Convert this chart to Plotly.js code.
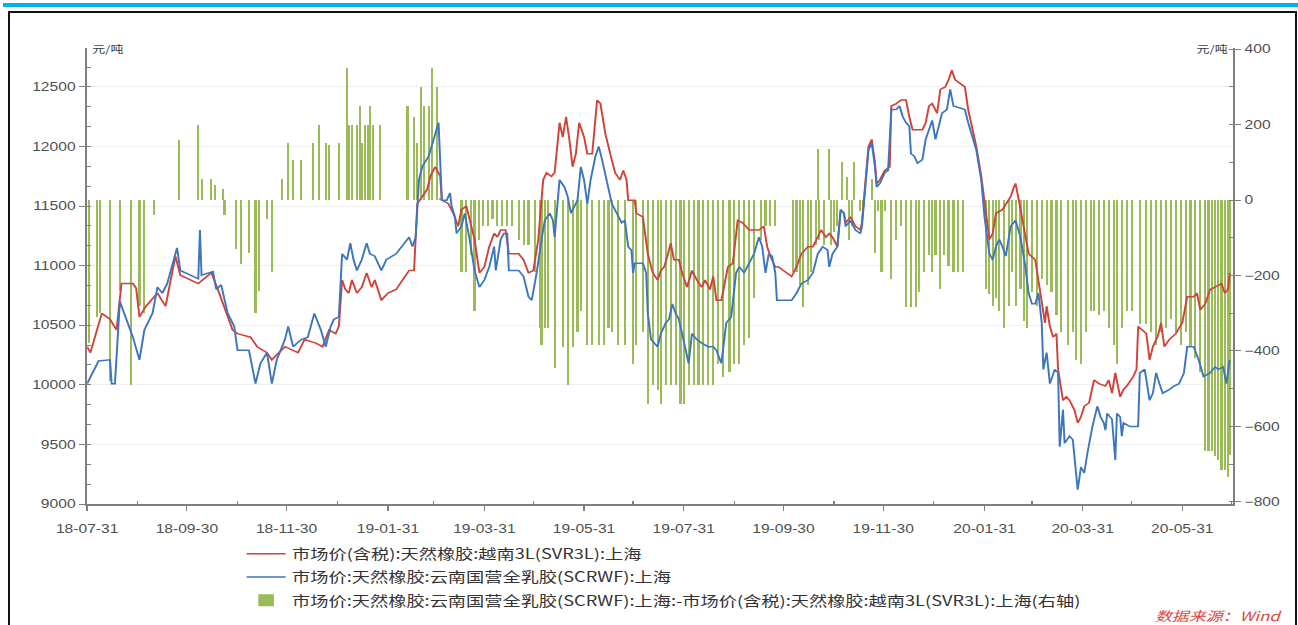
<!DOCTYPE html>
<html>
<head>
<meta charset="utf-8">
<script src="https://cdn.plot.ly/plotly-3.0.1.min.js"></script>
<style>
  html, body { margin: 0; padding: 0; background: #ffffff; width: 1298px; height: 625px; overflow: hidden; }
  #stripe { position: absolute; left: 3px; top: 3px; width: 1295px; height: 4px; background: #00b0f0; }
  #frame { position: absolute; left: 8px; top: 11px; width: 1285px; height: 700px; border: 2px solid #111; }
  #chart { position: absolute; left: 0; top: 0; width: 998px; height: 625px; transform: scaleX(1.3006); transform-origin: 0 0; }
</style>
</head>
<body>
<div id="stripe"></div>
<div id="frame"></div>
<div id="chart"></div>
<script>
// ---- Series: 市场价(含税):天然橡胶:越南3L(SVR3L):上海 (left axis, 元/吨)
const svrDates = ["2018-07-31","2018-08-02","2018-08-09","2018-08-14","2018-08-18","2018-08-21","2018-08-28","2018-08-30","2018-09-01","2018-09-05","2018-09-12","2018-09-17","2018-09-23","2018-09-26","2018-10-07","2018-10-15","2018-10-19","2018-10-28","2018-10-31","2018-11-08","2018-11-12","2018-11-18","2018-11-21","2018-11-29","2018-12-07","2018-12-11","2018-12-18","2018-12-22","2018-12-26","2018-12-30","2019-01-01","2019-01-03","2019-01-05","2019-01-07","2019-01-09","2019-01-12","2019-01-15","2019-01-18","2019-01-21","2019-01-23","2019-01-27","2019-01-31","2019-02-05","2019-02-13","2019-02-16","2019-02-18","2019-02-21","2019-02-24","2019-02-26","2019-03-01","2019-03-04","2019-03-05","2019-03-09","2019-03-12","2019-03-15","2019-03-17","2019-03-20","2019-03-23","2019-03-25","2019-03-28","2019-03-31","2019-04-03","2019-04-06","2019-04-08","2019-04-10","2019-04-13","2019-04-15","2019-04-21","2019-04-24","2019-04-27","2019-04-30","2019-05-03","2019-05-06","2019-05-08","2019-05-11","2019-05-13","2019-05-16","2019-05-18","2019-05-20","2019-05-22","2019-05-24","2019-05-26","2019-05-28","2019-05-31","2019-06-02","2019-06-05","2019-06-08","2019-06-10","2019-06-13","2019-06-16","2019-06-19","2019-06-22","2019-06-24","2019-06-26","2019-06-27","2019-07-01","2019-07-02","2019-07-06","2019-07-09","2019-07-12","2019-07-15","2019-07-17","2019-07-19","2019-07-21","2019-07-23","2019-07-25","2019-07-28","2019-07-30","2019-08-02","2019-08-05","2019-08-08","2019-08-11","2019-08-13","2019-08-16","2019-08-18","2019-08-20","2019-08-23","2019-08-27","2019-08-30","2019-09-02","2019-09-05","2019-09-09","2019-09-12","2019-09-15","2019-09-18","2019-09-20","2019-09-22","2019-09-25","2019-09-27","2019-10-05","2019-10-08","2019-10-11","2019-10-15","2019-10-18","2019-10-21","2019-10-23","2019-10-26","2019-10-28","2019-10-30","2019-11-02","2019-11-04","2019-11-06","2019-11-07","2019-11-10","2019-11-13","2019-11-16","2019-11-17","2019-11-19","2019-11-21","2019-11-23","2019-11-25","2019-11-26","2019-11-28","2019-12-01","2019-12-04","2019-12-05","2019-12-08","2019-12-11","2019-12-14","2019-12-16","2019-12-18","2019-12-21","2019-12-24","2019-12-26","2019-12-28","2019-12-30","2020-01-02","2020-01-04","2020-01-07","2020-01-09","2020-01-11","2020-01-13","2020-01-16","2020-01-19","2020-01-21","2020-01-26","2020-01-29","2020-02-01","2020-02-03","2020-02-05","2020-02-07","2020-02-11","2020-02-13","2020-02-16","2020-02-18","2020-02-19","2020-02-21","2020-02-24","2020-02-27","2020-03-02","2020-03-04","2020-03-06","2020-03-08","2020-03-09","2020-03-11","2020-03-13","2020-03-15","2020-03-16","2020-03-19","2020-03-21","2020-03-23","2020-03-26","2020-03-28","2020-03-30","2020-04-01","2020-04-04","2020-04-07","2020-04-10","2020-04-14","2020-04-16","2020-04-18","2020-04-20","2020-04-23","2020-04-25","2020-04-27","2020-05-01","2020-05-03","2020-05-04","2020-05-09","2020-05-11","2020-05-13","2020-05-16","2020-05-18","2020-05-20","2020-05-23","2020-05-27","2020-05-31","2020-06-03","2020-06-07","2020-06-09","2020-06-11","2020-06-14","2020-06-17","2020-06-20","2020-06-24","2020-06-26","2020-06-28","2020-06-29"];
const svrPrice = [10320,10270,10600,10550,10460,10850,10850,10810,10570,10660,10770,10660,11080,10920,10850,10940,10800,10460,10430,10400,10320,10270,10210,10320,10270,10380,10350,10320,10460,10430,10490,10880,10800,10770,10880,10770,10820,10940,10820,10880,10710,10770,10800,10960,10960,11520,11580,11640,11750,11830,11750,11550,11520,11440,11330,11470,11500,11330,11220,10940,10990,11160,11270,11240,11300,11300,11100,11100,11050,10940,10960,11220,11720,11780,11750,11780,12200,12080,12250,12060,11830,11940,12200,12080,11940,11940,12390,12360,12110,11940,11780,11720,11800,11720,11550,11550,11440,11410,11100,10940,10880,10960,10990,11080,11190,11050,11050,10940,10820,10960,10880,10820,10880,10800,10910,10710,10710,10990,11020,11380,11360,11300,11300,11300,11330,11160,11080,10990,10990,10910,10990,11100,11160,11160,11240,11300,11240,11270,11240,11160,11470,11440,11360,11410,11330,11300,11360,11640,12000,12060,11860,11690,11720,11800,11830,12340,12360,12390,12390,12250,12140,12140,12140,12200,12340,12360,12280,12480,12500,12560,12640,12560,12530,12500,12310,12000,11750,11410,11220,11270,11440,11470,11520,11580,11660,11690,11550,11330,11100,11050,10880,10680,10520,10660,10490,10400,10430,10130,9870,9900,9870,9790,9680,9730,9820,9850,10040,10010,9990,10040,9930,10100,9900,9960,9990,10070,10130,10490,10430,10210,10320,10410,10520,10320,10380,10430,10520,10740,10740,10770,10630,10680,10800,10820,10850,10770,10800,10940];

// ---- Series: 市场价:天然橡胶:云南国营全乳胶(SCRWF):上海 (left axis, 元/吨)
const scrwfDates = ["2018-07-31","2018-08-07","2018-08-14","2018-08-15","2018-08-17","2018-08-20","2018-08-24","2018-08-28","2018-09-01","2018-09-04","2018-09-09","2018-09-12","2018-09-15","2018-09-18","2018-09-24","2018-09-26","2018-10-07","2018-10-08","2018-10-09","2018-10-16","2018-10-18","2018-10-21","2018-10-25","2018-10-29","2018-10-31","2018-11-07","2018-11-11","2018-11-14","2018-11-18","2018-11-21","2018-11-24","2018-11-29","2018-12-01","2018-12-04","2018-12-09","2018-12-13","2018-12-17","2018-12-21","2018-12-24","2018-12-27","2018-12-29","2019-01-01","2019-01-03","2019-01-06","2019-01-08","2019-01-10","2019-01-12","2019-01-15","2019-01-18","2019-01-20","2019-01-23","2019-01-27","2019-01-30","2019-02-05","2019-02-13","2019-02-15","2019-02-17","2019-02-19","2019-02-21","2019-02-25","2019-02-28","2019-03-03","2019-03-05","2019-03-08","2019-03-10","2019-03-11","2019-03-13","2019-03-14","2019-03-17","2019-03-19","2019-03-22","2019-03-25","2019-03-28","2019-03-31","2019-04-03","2019-04-06","2019-04-07","2019-04-10","2019-04-12","2019-04-14","2019-04-15","2019-04-21","2019-04-24","2019-04-27","2019-04-29","2019-05-02","2019-05-05","2019-05-07","2019-05-10","2019-05-12","2019-05-13","2019-05-16","2019-05-19","2019-05-21","2019-05-23","2019-05-25","2019-05-27","2019-05-29","2019-05-31","2019-06-02","2019-06-04","2019-06-07","2019-06-09","2019-06-11","2019-06-14","2019-06-17","2019-06-20","2019-06-23","2019-06-25","2019-06-27","2019-06-29","2019-06-30","2019-07-01","2019-07-06","2019-07-08","2019-07-09","2019-07-11","2019-07-15","2019-07-17","2019-07-20","2019-07-22","2019-07-24","2019-07-26","2019-07-28","2019-07-30","2019-08-01","2019-08-03","2019-08-05","2019-08-08","2019-08-11","2019-08-15","2019-08-18","2019-08-20","2019-08-23","2019-08-26","2019-08-29","2019-09-01","2019-09-03","2019-09-06","2019-09-09","2019-09-12","2019-09-15","2019-09-17","2019-09-19","2019-09-21","2019-09-23","2019-09-25","2019-09-26","2019-09-29","2019-10-05","2019-10-08","2019-10-11","2019-10-15","2019-10-18","2019-10-21","2019-10-24","2019-10-27","2019-10-28","2019-10-30","2019-11-02","2019-11-04","2019-11-06","2019-11-07","2019-11-10","2019-11-13","2019-11-16","2019-11-17","2019-11-19","2019-11-21","2019-11-23","2019-11-25","2019-11-26","2019-11-28","2019-12-01","2019-12-03","2019-12-05","2019-12-08","2019-12-10","2019-12-12","2019-12-14","2019-12-16","2019-12-17","2019-12-19","2019-12-21","2019-12-24","2019-12-26","2019-12-28","2019-12-30","2020-01-01","2020-01-03","2020-01-05","2020-01-08","2020-01-10","2020-01-12","2020-01-19","2020-01-21","2020-01-26","2020-01-29","2020-01-31","2020-02-03","2020-02-05","2020-02-07","2020-02-09","2020-02-11","2020-02-13","2020-02-16","2020-02-19","2020-02-22","2020-02-25","2020-02-27","2020-02-29","2020-03-02","2020-03-04","2020-03-06","2020-03-07","2020-03-09","2020-03-11","2020-03-14","2020-03-16","2020-03-17","2020-03-19","2020-03-20","2020-03-23","2020-03-25","2020-03-27","2020-03-28","2020-03-30","2020-04-01","2020-04-03","2020-04-06","2020-04-09","2020-04-11","2020-04-13","2020-04-14","2020-04-15","2020-04-18","2020-04-20","2020-04-21","2020-04-23","2020-04-24","2020-04-25","2020-04-29","2020-05-04","2020-05-05","2020-05-08","2020-05-11","2020-05-13","2020-05-15","2020-05-17","2020-05-19","2020-05-23","2020-05-26","2020-05-29","2020-06-01","2020-06-03","2020-06-07","2020-06-10","2020-06-13","2020-06-17","2020-06-20","2020-06-22","2020-06-25","2020-06-27","2020-06-29"];
const scrwfPrice = [10010,10200,10210,10010,10010,10700,10550,10400,10210,10460,10600,10820,10770,10850,11150,10960,10890,11300,10920,10950,10800,10840,10600,10490,10290,10290,10010,10180,10270,10010,10210,10380,10490,10320,10380,10400,10600,10460,10320,10490,10550,10570,11100,11050,11190,11050,10960,11050,11190,11100,11080,10960,11050,11100,11240,11160,11240,11720,11830,11920,12060,12200,11550,11550,11610,11500,11410,11270,11330,11440,11220,10960,10820,10880,10990,11160,10960,11220,11270,11270,10960,10960,10910,10740,10710,10940,11220,11380,11440,11380,11240,11720,11660,11580,11440,11500,11550,11830,11720,11520,11720,11920,12000,11890,11720,11520,11440,11360,11380,11160,11130,10940,11020,11020,10940,10600,10380,10320,10430,10520,10550,10680,10600,10550,10430,10320,10180,10430,10380,10350,10320,10320,10290,10180,10520,10570,10940,10990,10940,11020,11100,11240,11160,10940,11100,11080,10940,10710,10710,10710,10770,10850,10880,10940,11100,11160,11130,10990,11100,11160,11470,11440,11330,11380,11300,11270,11330,11610,11970,12030,11830,11660,11690,11780,11800,12310,12310,12340,12250,12200,12170,11940,11920,11860,11890,12060,12140,12220,12060,12170,12280,12310,12480,12340,12310,12200,11970,11720,11410,11100,11050,11160,11220,11160,11080,11330,11380,11240,10990,10770,10680,10680,10770,10520,10130,10270,10010,10130,10100,9480,9790,9510,9570,9540,9290,9120,9310,9260,9430,9650,9820,9730,9680,9620,9760,9710,9370,9760,9730,9570,9680,9650,9650,10100,10130,9870,9930,10100,10010,9930,9960,9990,10010,10100,10320,10320,10210,10070,10100,10150,10130,10150,10010,10210];

// ---- Series: SCRWF - SVR3L spread (right axis, 元/吨)
const spreadDates = ["2018-08-01","2018-08-06","2018-08-08","2018-08-14","2018-08-20","2018-08-27","2018-09-01","2018-09-04","2018-09-10","2018-09-25","2018-10-07","2018-10-09","2018-10-15","2018-10-17","2018-10-22","2018-10-23","2018-10-30","2018-11-02","2018-11-07","2018-11-11","2018-11-13","2018-11-18","2018-11-21","2018-11-27","2018-12-01","2018-12-04","2018-12-09","2018-12-16","2018-12-20","2018-12-24","2018-12-26","2019-01-01","2019-01-06","2019-01-07","2019-01-09","2019-01-12","2019-01-14","2019-01-15","2019-01-17","2019-01-19","2019-01-20","2019-01-22","2019-01-26","2019-02-12","2019-02-16","2019-02-18","2019-02-20","2019-02-22","2019-02-25","2019-02-27","2019-03-02","2019-03-04","2019-03-17","2019-03-20","2019-03-23","2019-03-25","2019-03-28","2019-03-30","2019-04-02","2019-04-05","2019-04-08","2019-04-11","2019-04-14","2019-04-17","2019-04-21","2019-04-24","2019-04-27","2019-05-01","2019-05-04","2019-05-05","2019-05-07","2019-05-09","2019-05-13","2019-05-18","2019-05-21","2019-05-24","2019-05-27","2019-05-29","2019-06-02","2019-06-05","2019-06-09","2019-06-12","2019-06-15","2019-06-17","2019-06-21","2019-06-25","2019-06-30","2019-07-02","2019-07-06","2019-07-09","2019-07-12","2019-07-15","2019-07-17","2019-07-20","2019-07-23","2019-07-26","2019-07-29","2019-07-31","2019-08-03","2019-08-06","2019-08-09","2019-08-12","2019-08-15","2019-08-18","2019-08-21","2019-08-24","2019-08-28","2019-08-31","2019-09-03","2019-09-06","2019-09-09","2019-09-12","2019-09-16","2019-09-19","2019-09-22","2019-09-25","2019-10-06","2019-10-08","2019-10-10","2019-10-12","2019-10-15","2019-10-17","2019-10-20","2019-10-21","2019-10-22","2019-10-25","2019-10-28","2019-10-29","2019-10-31","2019-11-02","2019-11-05","2019-11-08","2019-11-09","2019-11-11","2019-11-12","2019-11-16","2019-11-18","2019-11-23","2019-11-25","2019-11-27","2019-11-29","2019-12-01","2019-12-05","2019-12-08","2019-12-11","2019-12-14","2019-12-17","2019-12-20","2019-12-22","2019-12-25","2019-12-28","2019-12-30","2020-01-01","2020-01-04","2020-01-06","2020-01-09","2020-01-12","2020-01-15","2020-01-18","2020-02-01","2020-02-03","2020-02-05","2020-02-07","2020-02-09","2020-02-12","2020-02-15","2020-02-17","2020-02-19","2020-02-22","2020-02-24","2020-02-26","2020-02-29","2020-03-03","2020-03-06","2020-03-09","2020-03-12","2020-03-15","2020-03-18","2020-03-22","2020-03-25","2020-03-27","2020-03-30","2020-04-02","2020-04-05","2020-04-07","2020-04-10","2020-04-13","2020-04-16","2020-04-19","2020-04-21","2020-04-24","2020-04-27","2020-04-30","2020-05-05","2020-05-09","2020-05-12","2020-05-15","2020-05-18","2020-05-21","2020-05-24","2020-05-27","2020-05-30","2020-06-02","2020-06-05","2020-06-08","2020-06-11","2020-06-14","2020-06-16","2020-06-18","2020-06-20","2020-06-22","2020-06-24","2020-06-26","2020-06-28","2020-06-29"];
const spreadValues = [-380,-310,-300,-480,-240,-490,-280,-300,-40,160,200,55,55,40,30,-40,-130,-170,-140,-300,-240,-50,-190,55,150,105,105,150,200,150,145,150,350,200,200,200,250,150,200,200,250,200,200,250,220,150,300,250,250,350,300,5,-190,-190,-145,-295,-105,-70,-70,-50,-70,-70,-70,-70,-105,-120,-120,-190,-340,-385,-340,-340,-445,-390,-490,-390,-350,-295,-385,-385,-385,-385,-340,-350,-385,-385,-435,-385,-350,-540,-490,-505,-540,-490,-490,-490,-540,-540,-490,-490,-490,-490,-490,-490,-435,-470,-455,-435,-435,-385,-365,-260,-105,-70,-70,-70,-190,-190,-225,-285,-225,-190,-120,135,-105,-120,135,-120,-85,-70,100,60,-105,-70,100,-30,-15,55,-140,-30,-190,-30,-210,-105,-70,-285,-285,-285,-245,-190,-145,-190,-145,-235,-145,-175,-190,-190,-190,-235,-250,-280,-260,-295,-340,-280,-190,-280,-235,-320,-340,-245,-280,-210,-225,-245,-305,-350,-385,-350,-425,-435,-350,-295,-295,-305,-295,-340,-385,-435,-340,-295,-295,-330,-330,-350,-385,-350,-340,-315,-350,-385,-350,-390,-420,-455,-665,-665,-665,-680,-690,-715,-715,-735,-675];

// ---- Axis ticks
const xTickVals = ["2018-07-31","2018-09-30","2018-11-30","2019-01-31","2019-03-31","2019-05-31","2019-07-31","2019-09-30","2019-11-30","2020-01-31","2020-03-31","2020-05-31"];
const xTickText = ["18-07-31","18-09-30","18-11-30","19-01-31","19-03-31","19-05-31","19-07-31","19-09-30","19-11-30","20-01-31","20-03-31","20-05-31"];
const xMinorVals = ["2018-08-31","2018-10-31","2018-12-31","2019-02-28","2019-04-30","2019-06-30","2019-08-31","2019-10-31","2019-12-31","2020-02-29","2020-04-30","2020-06-30"];
const leftTickVals = [9000,9500,10000,10500,11000,11500,12000,12500];
const rightTickVals = [-800,-600,-400,-200,0,200,400];

const names = [
  "市场价(含税):天然橡胶:越南3L(SVR3L):上海",
  "市场价:天然橡胶:云南国营全乳胶(SCRWF):上海",
  "市场价:天然橡胶:云南国营全乳胶(SCRWF):上海:-市场价(含税):天然橡胶:越南3L(SVR3L):上海(右轴)"
];

const axisColor = "#7f7f7f";
const tickFont = {family: "Liberation Sans, Arial, sans-serif", size: 12, color: "#505050"};

const data = [
  {type: "scatter", mode: "lines", x: svrDates, y: svrPrice, name: names[0], yaxis: "y2",
   legendgroup: "g1", line: {color: "#d0433a", width: 1.5}},
  {type: "scatter", mode: "lines", x: scrwfDates, y: scrwfPrice, name: names[1], yaxis: "y2",
   legendgroup: "g2", line: {color: "#3d76bd", width: 1.5}},
  {type: "bar", x: spreadDates, y: spreadValues, name: names[2], yaxis: "y",
   legendgroup: "g3", width: 1.3 * 86400000, marker: {color: "#9bbb59", line: {width: 0}}}
];

const layout = {
  width: 998, height: 625,
  margin: {l: 67, r: 50, t: 48, b: 121, autoexpand: false},
  paper_bgcolor: "rgba(0,0,0,0)", plot_bgcolor: "rgba(0,0,0,0)",
  showlegend: true,
  bargap: 0,
  xaxis: {
    type: "date", range: ["2018-07-31", "2020-07-01"],
    tickmode: "array", tickvals: xTickVals, ticktext: xTickText,
    showline: true, linecolor: axisColor, linewidth: 1.5,
    ticks: "outside", ticklen: 5, tickcolor: axisColor, tickwidth: 1,
    ticklabelstandoff: 8,
    tickfont: tickFont, showgrid: false, zeroline: false,
    minor: {tickmode: "array", tickvals: xMinorVals, ticks: "inside", ticklen: 3, tickcolor: axisColor, showgrid: false}
  },
  yaxis: {
    side: "right", range: [-806, 403],
    tickmode: "array", tickvals: rightTickVals,
    showline: true, linecolor: axisColor, linewidth: 1.5,
    ticks: "outside", ticklen: 5, tickcolor: axisColor,
    tickfont: tickFont, showgrid: false, zeroline: false,
    minor: {tickmode: "linear", tick0: 0, dtick: 100, ticks: "inside", ticklen: 3, tickcolor: axisColor, showgrid: false}
  },
  yaxis2: {
    overlaying: "y", side: "left", range: [9000, 12827],
    tickmode: "array", tickvals: leftTickVals, tickformat: "d",
    showline: true, linecolor: axisColor, linewidth: 1.5,
    ticks: "outside", ticklen: 5, tickcolor: axisColor,
    tickfont: tickFont, showgrid: true, gridcolor: "#efefef", gridwidth: 1, zeroline: false,
    minor: {tickmode: "linear", tick0: 9000, dtick: 500 / 3, ticks: "inside", ticklen: 3, tickcolor: axisColor, showgrid: false}
  },
  legend: {
    x: 0.1335, xanchor: "left", y: -0.075, yanchor: "top",
    orientation: "v", traceorder: "grouped", tracegroupgap: 2,
    font: {family: "Noto Sans CJK SC, sans-serif", size: 14, color: "#333333"},
    bgcolor: "rgba(0,0,0,0)", borderwidth: 0
  },
  annotations: [
    {xref: "paper", yref: "paper", x: 0, y: 1, xanchor: "left", yanchor: "middle", xshift: 2,
     text: "元/吨", showarrow: false, font: {family: "Noto Sans CJK SC, sans-serif", size: 10, color: "#404040"}},
    {xref: "paper", yref: "paper", x: 1, y: 1, xanchor: "right", yanchor: "middle", xshift: -2,
     text: "元/吨", showarrow: false, font: {family: "Noto Sans CJK SC, sans-serif", size: 10, color: "#404040"}},
    {xref: "paper", yref: "paper", x: 1.0454, y: -0.22, xanchor: "right", yanchor: "top",
     text: "<i>数据来源：Wind</i>", showarrow: false, font: {family: "Noto Sans CJK SC, sans-serif", size: 13, color: "#e0453a"}}
  ]
};

Plotly.newPlot("chart", data, layout, {staticPlot: true, displayModeBar: false});
</script>
</body>
</html>
